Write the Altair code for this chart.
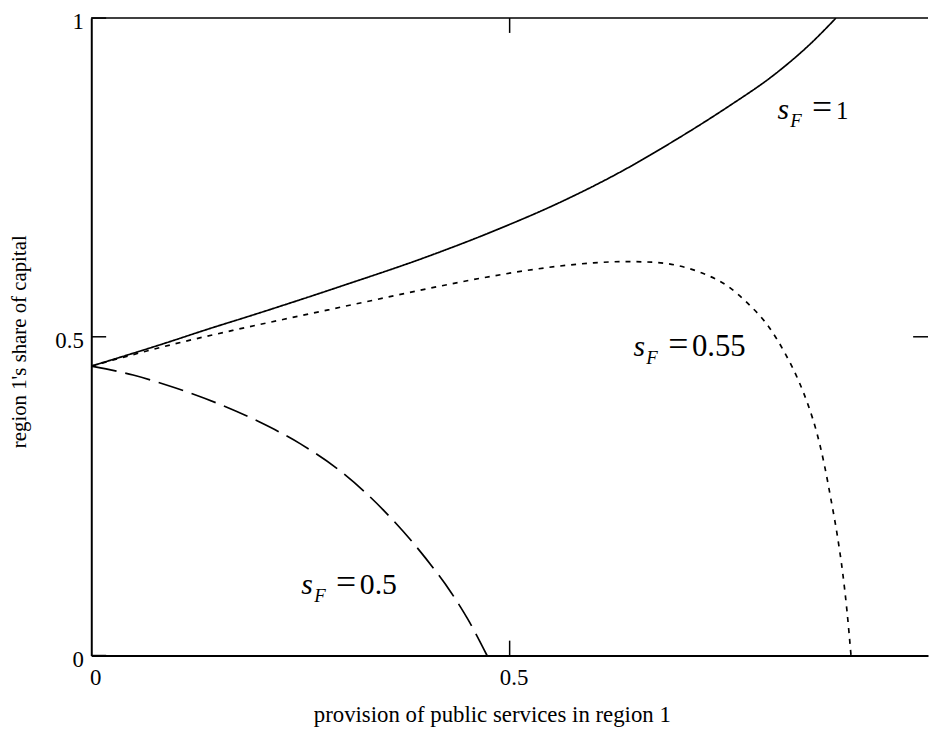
import altair as alt
import pandas as pd

# ---- data ----
series_names = ["s_F = 1", "s_F = 0.55", "s_F = 0.5"]

x_sf1 = [0, 0.1, 0.13, 0.2, 0.3, 0.4, 0.483, 0.562, 0.633, 0.701, 0.76, 0.819, 0.859, 0.89]
y_sf1 = [0.454, 0.495, 0.508, 0.537, 0.580, 0.625, 0.667, 0.712, 0.759, 0.811, 0.860, 0.914, 0.959, 1.0]

x_sf055 = [0, 0.05, 0.1, 0.169, 0.25, 0.3, 0.35, 0.4, 0.483, 0.52, 0.56, 0.6, 0.64, 0.67, 0.7, 0.73, 0.76,
           0.785, 0.81, 0.83, 0.845, 0.857, 0.867, 0.876, 0.884, 0.892, 0.898, 0.903, 0.908]
y_sf055 = [0.454, 0.472, 0.489, 0.510, 0.533, 0.547, 0.561, 0.575, 0.596, 0.604, 0.611, 0.616, 0.618, 0.617,
           0.612, 0.600, 0.580, 0.552, 0.515, 0.472, 0.432, 0.392, 0.350, 0.300, 0.245, 0.185, 0.130, 0.072, 0.0]

x_sf05 = [0, 0.05, 0.1, 0.15, 0.2, 0.25, 0.3, 0.35, 0.4, 0.43, 0.45, 0.473]
y_sf05 = [0.454, 0.440, 0.420, 0.396, 0.367, 0.332, 0.287, 0.227, 0.152, 0.099, 0.057, 0.0]

x_tick_labels = [0, 0.5]
y_tick_labels = [0, 0.5, 1]
x_inner_ticks = [0.5]
y_left_ticks = [0, 0.5, 1]
y_right_ticks = [0.5]
top_edge = [1]

label_x = [0.820, 0.648, 0.251]
label_y = [0.841, 0.470, 0.0964]
label_val = ["1", "0.55", "0.5"]
label_fs = [25, 31, 30]

x_title = "provision of public services in region 1"
y_title = "region 1's share of capital"

# ---- tables ----
curves = pd.concat([
    pd.DataFrame({"x": x_sf1, "y": y_sf1, "series": series_names[0]}),
    pd.DataFrame({"x": x_sf055, "y": y_sf055, "series": series_names[1]}),
    pd.DataFrame({"x": x_sf05, "y": y_sf05, "series": series_names[2]}),
], ignore_index=True)

labels = pd.DataFrame({"x": label_x, "y": label_y, "val": label_val, "fs": label_fs})

FONT = "Liberation Serif"
W, H = 844, 643
TICK = 15

xscale = alt.Scale(domain=[0, 1], nice=False, zero=False)
yscale = alt.Scale(domain=[0, 1], nice=False, zero=False)

xaxis = alt.Axis(values=x_tick_labels, format="~g", title=x_title, grid=False, ticks=False, tickSize=0,
                 domainColor="black", domainWidth=2, labelFlush=False, labelOffset=4,
                 labelBaseline="alphabetic", labelPadding=29, labelFontSize=23, labelColor="black",
                 labelFont=FONT, titleFont=FONT,
                 titleFontSize=23, titleFontWeight="normal", titleColor="black",
                 titleX=404, titleY=67, titleAlign="center", titleBaseline="alphabetic")
yaxis = alt.Axis(values=y_tick_labels, format="~g", title=y_title, grid=False, ticks=False, tickSize=0,
                 domainColor="black", domainWidth=2, labelFlush=False, labelOffset=11,
                 labelBaseline="alphabetic", labelPadding=8, labelFontSize=23, labelColor="black",
                 labelFont=FONT, titleFont=FONT,
                 titleFontSize=21, titleFontWeight="normal", titleColor="black",
                 titleX=-66, titleY=326, titleAngle=270, titleAlign="center", titleBaseline="alphabetic")

lines = alt.Chart(curves).mark_line(color="black", strokeWidth=1.7, interpolate="monotone", clip=True).encode(
    x=alt.X("x:Q", scale=xscale, axis=xaxis),
    y=alt.Y("y:Q", scale=yscale, axis=yaxis),
    strokeDash=alt.StrokeDash("series:N",
                              scale=alt.Scale(domain=series_names, range=[[1, 0], [5, 6], [26, 9]]),
                              legend=None),
)

rule_style = dict(color="black", strokeWidth=1.5)

top_line = alt.Chart(pd.DataFrame({"y": top_edge})).mark_rule(**rule_style).encode(
    y="y:Q", x=alt.value(0), x2=alt.value(W))
bottom_ticks = alt.Chart(pd.DataFrame({"x": x_inner_ticks})).mark_rule(**rule_style).encode(
    x="x:Q", y=alt.value(H), y2=alt.value(H - TICK))
top_ticks = alt.Chart(pd.DataFrame({"x": x_inner_ticks})).mark_rule(**rule_style).encode(
    x="x:Q", y=alt.value(0), y2=alt.value(TICK))
left_ticks = alt.Chart(pd.DataFrame({"y": y_left_ticks})).mark_rule(**rule_style).encode(
    y="y:Q", x=alt.value(0), x2=alt.value(TICK))
right_ticks = alt.Chart(pd.DataFrame({"y": y_right_ticks})).mark_rule(**rule_style).encode(
    y="y:Q", x=alt.value(W - TICK), x2=alt.value(W))

txt = dict(font=FONT, color="black", align="left", baseline="alphabetic")
lab_s = alt.Chart(labels).mark_text(text="s", fontStyle="italic", fontSize=30, **txt).encode(x="x:Q", y="y:Q")
lab_F = alt.Chart(labels).mark_text(text="F", fontStyle="italic", fontSize=19, dx=13, dy=8, **txt).encode(
    x="x:Q", y="y:Q")
lab_eq = alt.Chart(labels).mark_text(text="=", fontSize=36, dx=35, **txt).encode(x="x:Q", y="y:Q")
lab_val = alt.Chart(labels).mark_text(dx=59, **txt).encode(
    x="x:Q", y="y:Q", text="val:N", size=alt.Size("fs:Q", scale=None, legend=None))

chart = alt.layer(
    lines, top_line, bottom_ticks, top_ticks, left_ticks, right_ticks,
    lab_s, lab_F, lab_eq, lab_val,
).properties(
    width=W, height=H,
    autosize=alt.AutoSizeParams(type="none"),
    padding={"left": 84, "top": 7, "right": 1, "bottom": 74},
).configure(background="white").configure_view(stroke=None).configure_axis(
    labelFont=FONT, titleFont=FONT
)

chart.save("out.html", embed_options={"renderer": "svg", "actions": False})
